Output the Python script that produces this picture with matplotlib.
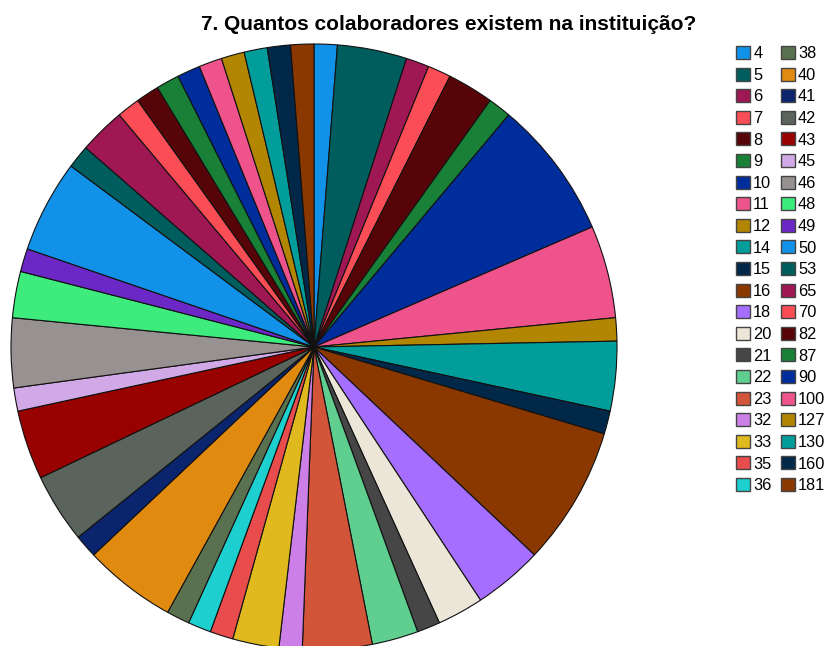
import matplotlib
matplotlib.use("Agg")
import matplotlib.pyplot as plt

plt.rcParams['font.family'] = ['Liberation Sans', 'DejaVu Sans']

title = "7. Quantos colaboradores existem na instituição?"

categories = ["4", "5", "6", "7", "8", "9", "10", "11", "12", "14", "15", "16", "18", "20",
              "21", "22", "23", "32", "33", "35", "36", "38", "40", "41", "42", "43", "45",
              "46", "48", "49", "50", "53", "65", "70", "82", "87", "90", "100", "127", "130",
              "160", "181"]
counts = [1, 3, 1, 1, 2, 1, 6, 4, 1, 3, 1, 6, 3, 2,
          1, 2, 3, 1, 2, 1, 1, 1, 4, 1, 3, 3, 1,
          3, 2, 1, 4, 1, 2, 1, 1, 1, 1, 1, 1, 1,
          1, 1]
colors = ["#1192E8", "#005D5D", "#9F1853", "#FA4D56", "#570408", "#198038", "#002D9C",
          "#EE538B", "#B28600", "#009D9A", "#012749", "#8A3800", "#A56EFF", "#EBE6D7",
          "#464646", "#5FCE8E", "#D2553A", "#CC7FE6", "#E0B91E", "#E84C4C", "#1DCFCF",
          "#5A7150", "#E08A10", "#0A246E", "#5A645C", "#990000", "#D1A9E6",
          "#979191", "#3EEB7D", "#6B28C6", "#1192E8", "#005D5D", "#9F1853", "#FA4D56",
          "#570408", "#198038", "#002D9C", "#EE538B", "#B28600", "#009D9A",
          "#012749", "#8A3800"]

W, H = 831, 646
fig = plt.figure(figsize=(W / 100, H / 100), dpi=100)

cx, cy, r = 314, 347, 303
ax = fig.add_axes([(cx - r) / W, (H - cy - r) / H, 2 * r / W, 2 * r / H])
wedges, _ = ax.pie(counts, colors=colors, startangle=90, counterclock=False,
                   radius=1.0, wedgeprops=dict(edgecolor="#111111", linewidth=0.8))
ax.set_xlim(-1.0, 1.0)
ax.set_ylim(-1.0, 1.0)
ax.set_aspect('auto')
ax.axis('off')

fig.text(448.5 / W, 1 - 24.5 / H, title, ha='center', va='center',
         fontsize=15.0, fontweight='bold')

leg = fig.legend(wedges, categories, ncol=2, loc='upper left',
                 bbox_to_anchor=(736 / W, 1 - 46 / H), frameon=False,
                 fontsize=11.8, handlelength=0.85, handleheight=0.85,
                 handletextpad=0.2, columnspacing=0.55, labelspacing=0.39,
                 borderpad=0.0, borderaxespad=0.0)
for h in leg.legend_handles:
    h.set_edgecolor("#444444")
    h.set_linewidth(1.0)

fig.savefig("out.png", dpi=100)
